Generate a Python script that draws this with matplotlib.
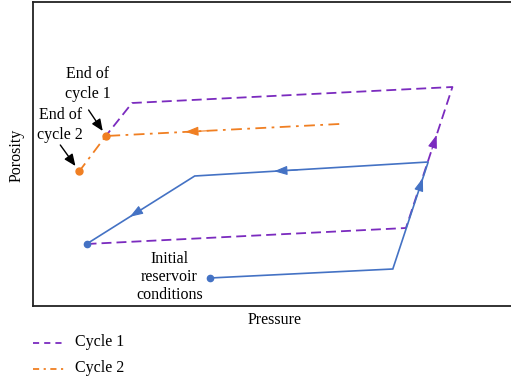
import matplotlib.pyplot as plt

plt.rcParams['font.family'] = ['Liberation Serif', 'DejaVu Serif']

# Path points (pressure, porosity in picture units)
blue_x = [208, 389, 424, 193, 86]
blue_y = [278, 269, 162, 176, 244]
cycle1_x = [86, 402, 448, 131, 105]
cycle1_y = [244, 228, 87, 103, 136]
cycle2_x = [336, 105, 79]
cycle2_y = [124, 136, 171]

blue_pts_x = [86, 208]
blue_pts_y = [244, 278]
orange_pts_x = [105, 79]
orange_pts_y = [136, 171]

blue = '#4472C4'
purple = '#7B2BBF'
orange = '#F07F22'

fig = plt.figure(figsize=(5.11, 3.85), dpi=100)
ax = fig.add_axes([33 / 511, 79 / 385, 1 - 33 / 511 + 0.01, 304 / 385])
ax.set_xlim(33, 511)
ax.set_ylim(306, 2)
ax.set_xticks([])
ax.set_yticks([])
ax.spines['right'].set_visible(False)
for s in ['left', 'top', 'bottom']:
    ax.spines[s].set_linewidth(1.3)
    ax.spines[s].set_color('#222222')

ax.plot(cycle1_x, cycle1_y, color=purple, lw=1.3, dashes=(5.5, 2.8), zorder=2)
ax.plot(cycle2_x, cycle2_y, color=orange, lw=1.3, dashes=(6, 3, 1.5, 3), zorder=2)
ax.plot(blue_x, blue_y, color=blue, lw=1.2, solid_joinstyle='miter', zorder=3)
ax.plot(blue_pts_x, blue_pts_y, 'o', color=blue, ms=4.5, zorder=5)
ax.plot(orange_pts_x, orange_pts_y, 'o', color=orange, ms=5, zorder=5)

head = '-|>,head_length=0.8,head_width=0.28'


def mid_arrow(xs, ys, i, frac, color):
    x0, y0 = xs[i], ys[i]
    x1, y1 = xs[i + 1], ys[i + 1]
    tx, ty = x0 + frac * (x1 - x0), y0 + frac * (y1 - y0)
    bx, by = x0 + (frac - 0.1) * (x1 - x0), y0 + (frac - 0.1) * (y1 - y0)
    ax.annotate('', xy=(tx, ty), xytext=(bx, by),
                arrowprops=dict(arrowstyle=head, color=color, lw=0.8,
                                mutation_scale=10, shrinkA=0, shrinkB=0), zorder=4)


mid_arrow(blue_x, blue_y, 1, 0.85, blue)
mid_arrow(blue_x, blue_y, 2, 0.66, blue)
mid_arrow(blue_x, blue_y, 3, 0.6, blue)
mid_arrow(cycle1_x, cycle1_y, 1, 0.66, purple)
mid_arrow(cycle2_x, cycle2_y, 0, 0.66, orange)

fs = 11.5
ax.text(87, 84, 'End of\ncycle 1', ha='center', va='center', fontsize=fs, linespacing=1.3)
ax.text(60, 125, 'End of\ncycle 2', ha='center', va='center', fontsize=fs, linespacing=1.3)
ax.annotate('', xy=(102, 131), xytext=(88, 110),
            arrowprops=dict(arrowstyle='-|>,head_length=0.7,head_width=0.3', color='black',
                            lw=1, mutation_scale=10, shrinkA=0, shrinkB=0))
ax.annotate('', xy=(75, 166), xytext=(60, 145),
            arrowprops=dict(arrowstyle='-|>,head_length=0.7,head_width=0.3', color='black',
                            lw=1, mutation_scale=10, shrinkA=0, shrinkB=0))
ax.text(168, 277, 'Initial\nreservoir\nconditions', ha='center', va='center',
        fontsize=fs, linespacing=1.2)

ax.set_xlabel('Pressure', fontsize=fs, labelpad=4)
fig.text(17 / 511, 1 - 155 / 385, 'Porosity', rotation=90, ha='center', va='center', fontsize=fs)

# legend below the axes
fig.lines.append(plt.Line2D([33 / 511, 66 / 511], [1 - 343 / 385] * 2, transform=fig.transFigure,
                            color=purple, lw=1.3, dashes=(3.4, 2.8)))
fig.lines.append(plt.Line2D([33 / 511, 66 / 511], [1 - 369 / 385] * 2, transform=fig.transFigure,
                            color=orange, lw=1.3, dashes=(3.4, 2.5, 1.2, 2.5)))
fig.text(75 / 511, 1 - 342 / 385, 'Cycle 1', ha='left', va='center', fontsize=fs)
fig.text(75 / 511, 1 - 368 / 385, 'Cycle 2', ha='left', va='center', fontsize=fs)

fig.savefig('out.png', dpi=100)
